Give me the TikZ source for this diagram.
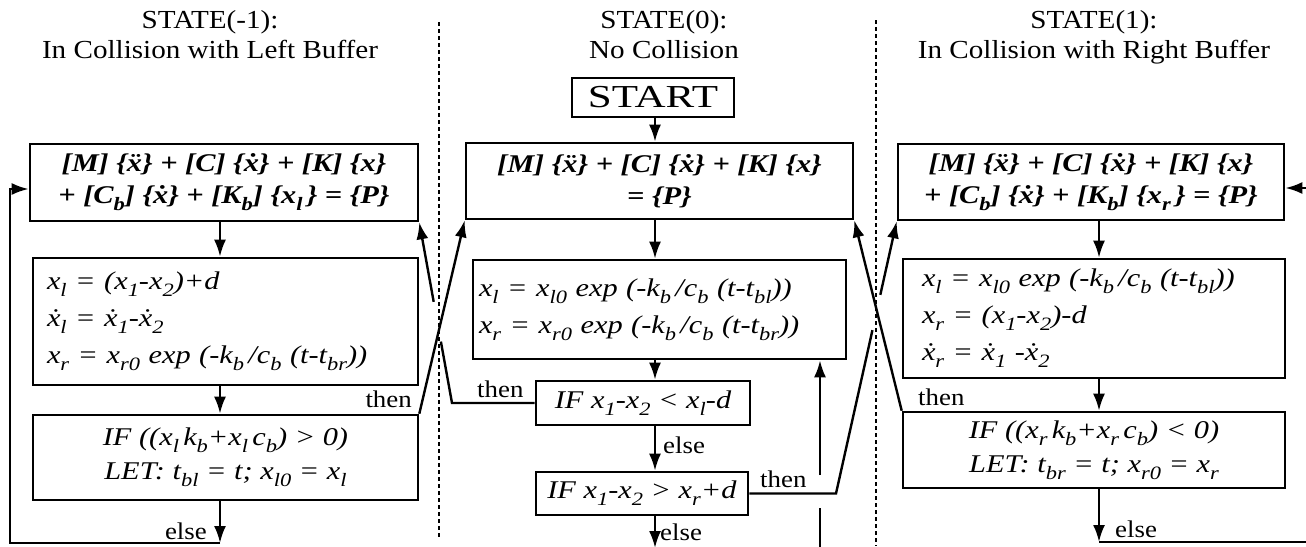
\documentclass[tikz,border=0pt]{standalone}
\usepackage{fontspec}
\setmainfont{Liberation Serif}[FakeStretch=1.12]
\newfontfamily\boxfont{Liberation Serif}[FakeStretch=1.19]
\usetikzlibrary{arrows.meta,calc}
\newcommand\lo[1]{\raisebox{-0.28em}{\scalebox{0.74}{#1}}}
\begin{document}
\begin{tikzpicture}[x=1pt,y=-1pt,
  tbox/.style={draw, line width=2.6pt, inner sep=0pt},
  eqbox/.style={tbox, align=center, font=\boxfont\fontsize{25.5}{32}\selectfont\bfseries\itshape},
  lbox/.style={tbox, align=left, font=\boxfont\fontsize{25.5}{37}\selectfont\itshape},
  cbox/.style={tbox, align=center, font=\boxfont\fontsize{25.5}{34}\selectfont\itshape},
  title/.style={align=center, inner sep=0pt, font=\fontsize{26}{30}\selectfont},
  lbl/.style={inner sep=0pt, font=\fontsize{24}{24}\selectfont},
  arr/.style={-{Latex[length=17pt,width=12pt]}, line width=2.4pt},
  ln/.style={line width=2.4pt},
  sepline/.style={line width=2.2pt, dash pattern=on 4pt off 3pt}]
\useasboundingbox (0,0) rectangle (1306,546);

% titles
\node[title, anchor=north] (TL) at (210,10) {STATE(-1):\\In Collision with Left Buffer};
\node[title, anchor=north] (TM) at (664,10) {STATE(0):\\No Collision};
\node[title, anchor=north] (TR) at (1094,10) {STATE(1):\\In Collision with Right Buffer};

% separators
\coordinate (sL1) at (439,22); \coordinate (sL2) at (439,537);
\coordinate (sR1) at (876,20); \coordinate (sR2) at (876,546);
\draw[sepline] (sL1) -- (sL2);
\draw[sepline] (sR1) -- (sR2);

% left column
\node[eqbox, minimum width=388, minimum height=77] (L1) at (224,182.5)
  {[M] \{\"x\} + [C] \{\.x\} + [K] \{x\}\\+ [C\lo{b}] \{\.x\} + [K\lo{b}] \{x\lo{l}\,\} = \{P\}};
\node[lbox, minimum height=127, text width=357, inner xsep=14] (L2) at (225.5,321.5)
  {x\lo{l} = (x\lo{1}-x\lo{2})+d\\\.x\lo{l} = \.x\lo{1}-\.x\lo{2}\\x\lo{r} = x\lo{r0} exp (-k\lo{b}\,/c\lo{b} (t-t\lo{br}))};
\node[cbox, minimum width=385, minimum height=85] (L3) at (225.5,457.5)
  {IF ((x\lo{l}\,k\lo{b}+x\lo{l}\,c\lo{b}) > 0)\\LET: t\lo{bl} = t; x\lo{l0} = x\lo{l}};

% middle column
\node[tbox, font=\fontsize{32}{32}\selectfont, minimum width=162, minimum height=39] (START) at (653,97.5) {\scalebox{1.2}[1]{START}};
\node[eqbox, minimum width=387, minimum height=76] (M1) at (659.5,181)
  {[M] \{\"x\} + [C] \{\.x\} + [K] \{x\}\\= \{P\}};
\node[lbox, minimum height=99, text width=361, inner xsep=6] (M2) at (659.5,309.5)
  {x\lo{l} = x\lo{l0} exp (-k\lo{b}\,/c\lo{b} (t-t\lo{bl}))\\x\lo{r} = x\lo{r0} exp (-k\lo{b}\,/c\lo{b} (t-t\lo{br}))};
\node[cbox, minimum width=214, minimum height=44] (IF1) at (643,403)
  {IF x\lo{1}-x\lo{2} < x\lo{l}-d};
\node[cbox, minimum width=212, minimum height=43] (IF2) at (642,493.5)
  {IF x\lo{1}-x\lo{2} > x\lo{r}+d};

% right column
\node[eqbox, minimum width=386, minimum height=76] (R1) at (1091,182)
  {[M] \{\"x\} + [C] \{\.x\} + [K] \{x\}\\+ [C\lo{b}] \{\.x\} + [K\lo{b}] \{x\lo{r}\,\} = \{P\}};
\node[lbox, minimum height=119, text width=344, inner xsep=19] (R2) at (1094,318.5)
  {x\lo{l} = x\lo{l0} exp (-k\lo{b}\,/c\lo{b} (t-t\lo{bl}))\\x\lo{r} = (x\lo{1}-x\lo{2})-d\\\.x\lo{r} = \.x\lo{1} -\.x\lo{2}};
\node[cbox, minimum width=382, minimum height=76] (R3) at (1094,450)
  {IF ((x\lo{r}\,k\lo{b}+x\lo{r}\,c\lo{b}) < 0)\\LET: t\lo{br} = t; x\lo{r0} = x\lo{r}};

% column coordinates
\coordinate (cL) at (220,0);
\coordinate (cM) at (655,0);
\coordinate (cR) at (1099,0);

% straight flow arrows
\draw[arr] (L1.south -| cL) -- (L2.north -| cL);
\draw[arr] (L2.south -| cL) -- (L3.north -| cL);
\draw[arr] (START.south -| cM) -- (M1.north -| cM);
\draw[arr] (M1.south -| cM) -- (M2.north -| cM);
\draw[arr] (M2.south -| cM) -- (IF1.north -| cM);
\draw[arr] (IF1.south -| cM) -- (IF2.north -| cM);
\draw[arr] (R1.south -| cR) -- (R2.north -| cR);
\draw[arr] (R2.south -| cR) -- (R3.north -| cR);

% left else loop
\coordinate (lb) at (220,543);
\coordinate (lc) at (10,543);
\coordinate (lt) at (10,189);
\draw[arr] (L3.south -| cL) -- (lb);
\draw[arr] (lb) -- (lc) -- (lt) -- (L1.west |- lt);
\node[lbl, anchor=base east] (eL) at (207,539) {else};

% left then: L3 -> M1
\draw[arr] (L3.north east) -- (M1.south west);
\node[lbl, anchor=base east] (tL) at (412,407) {then};

% IF1 then -> L1 (broken at crossing)
\coordinate (bBx) at (452,0);
\coordinate (bB) at (IF1.west -| bBx);
\draw[ln] (IF1.west) -- (bB) -- ($(bB)!0.34!(L1.south east)$);
\draw[arr] ($(bB)!0.56!(L1.south east)$) -- (L1.south east);
\node[lbl, anchor=base west] (tM1) at (477,397) {then};
\node[lbl, anchor=base west] (eM1) at (663,453) {else};

% IF2 then -> R1 (broken at crossing)
\coordinate (bCx) at (836,0);
\coordinate (bC) at (IF2.east -| bCx);
\draw[ln] (IF2.east) -- (bC) -- ($(bC)!0.60!(R1.south west)$);
\draw[arr] ($(bC)!0.73!(R1.south west)$) -- (R1.south west);
\node[lbl, anchor=base west] (tM2) at (760,487) {then};

% R3 then -> M1
\draw[arr] (R3.north west) -- (M1.south east);
\node[lbl, anchor=base west] (tR) at (918,405) {then};

% middle else and return
\coordinate (mb) at (655,548);
\draw[arr] (IF2.south -| cM) -- (mb);
\node[lbl, anchor=base west] (eM2) at (660,540) {else};
\coordinate (mr0) at (820,552);
\coordinate (mr1) at (820,508);
\coordinate (mr2) at (820,475);
\draw[ln] (mr0) -- (mr1);
\draw[arr] (mr2) -- (M2.south -| mr2);

% right else loop
\coordinate (rb) at (1099,542);
\coordinate (rc) at (1312,542);
\coordinate (rt) at (1312,188);
\draw[arr] (R3.south -| cR) -- (rb);
\draw[arr] (rb) -- (rc) -- (rt) -- (R1.east |- rt);
\node[lbl, anchor=base west] (eR) at (1115,537) {else};
\end{tikzpicture}
\end{document}
